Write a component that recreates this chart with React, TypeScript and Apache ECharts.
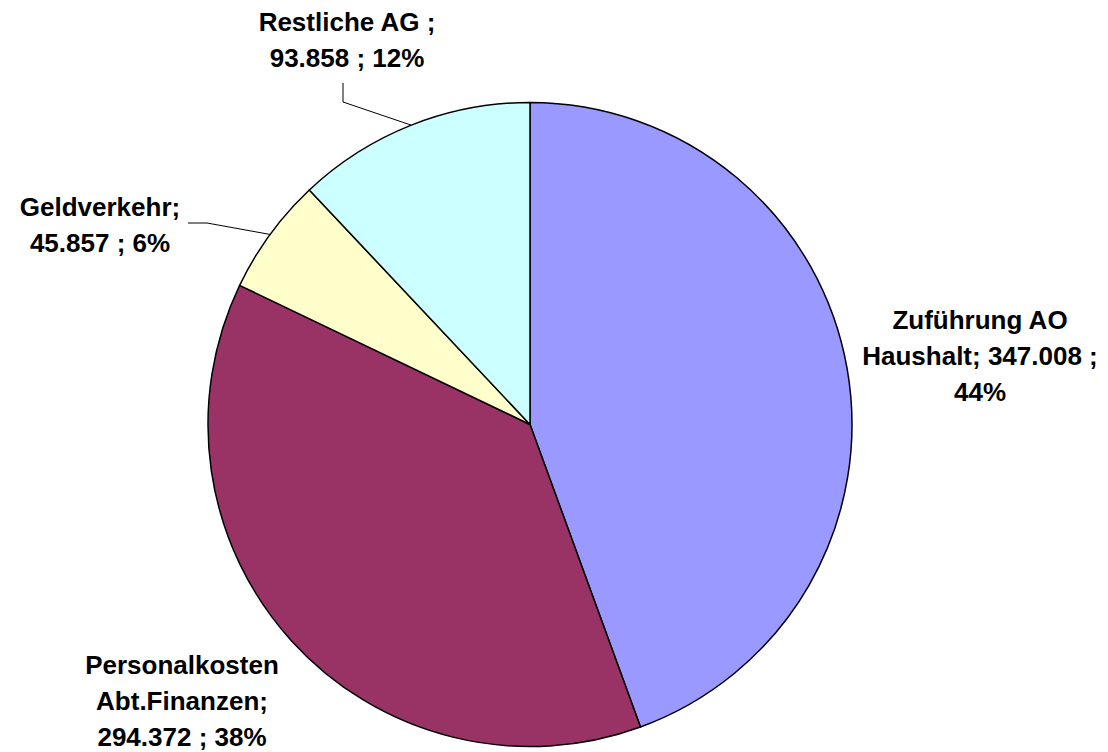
import React, { useEffect, useRef } from "react";
import * as echarts from "echarts";

// ---- Data ----
const categories = [
  "Zuführung AO Haushalt",
  "Personalkosten Abt.Finanzen",
  "Geldverkehr",
  "Restliche AG ",
];
const values = [347008, 294372, 45857, 93858];
const colors = ["#9999FF", "#993366", "#FFFFCC", "#CCFFFF"];

// where each label wraps (line texts built from name / value / percent)
function labelText(i: number, name: string, v: string, p: string): string {
  switch (i) {
    case 0:
      return "Zuführung AO\nHaushalt; " + v + " ;\n" + p;
    case 1:
      return "Personalkosten\nAbt.Finanzen;\n" + v + " ; " + p;
    default:
      return name + ";\n" + v + " ; " + p;
  }
}

// ---- Layout (label centres, leader line knee/end) ----
const labelPos: [number, number][] = [
  [980, 356],
  [182, 701],
  [100, 225],
  [347, 40],
];
const leader: ([number, number][] | null)[] = [
  null,
  null,
  [
    [207, 223],
    [188, 223],
  ],
  [
    [343, 102],
    [343, 83],
  ],
];

function fmtDE(n: number): string {
  const s = Math.round(n).toString();
  return s.replace(/\B(?=(\d{3})+(?!\d))/g, ".");
}

export default function App() {
  const ref = useRef<HTMLDivElement>(null);
  useEffect(() => {
    if (!ref.current) return;
    const chart = echarts.init(ref.current, null, { renderer: "svg" });
    const data = categories.map((name, i) => ({
      name,
      value: values[i],
      itemStyle: { color: colors[i] },
      labelLine: { show: leader[i] != null },
    }));
    chart.setOption({
      animation: false,
      backgroundColor: "#ffffff",
      series: [
        {
          type: "pie",
          center: [530, 424.5],
          radius: [0, 322],
          startAngle: 90,
          clockwise: true,
          data,
          itemStyle: { borderColor: "#000000", borderWidth: 1.5 },
          emphasis: { disabled: true },
          label: {
            show: true,
            position: "outside",
            color: "#000000",
            fontFamily: "'Liberation Sans', Arial, sans-serif",
            fontWeight: "bold",
            fontSize: 26,
            lineHeight: 36,
            align: "center",
            overflow: "none",
            formatter: (p: any) =>
              labelText(
                p.dataIndex,
                p.name,
                fmtDE(p.value),
                Math.round(p.percent) + "%"
              ),
          },
          labelLine: {
            show: true,
            length: 20,
            length2: 20,
            lineStyle: { color: "#000000", width: 1 },
          },
          labelLayout: (params: any) => {
            const i = params.dataIndex;
            const pos = labelPos[i];
            const out: any = {
              x: pos[0],
              y: pos[1],
              align: "center",
              verticalAlign: "middle",
              width: 400,
            };
            const l = leader[i];
            if (l && params.labelLinePoints) {
              const start = params.labelLinePoints[0];
              out.labelLinePoints = [start, l[0], l[1]];
            }
            return out;
          },
        },
      ],
    });
    return () => chart.dispose();
  }, []);
  return (
    <div
      ref={ref}
      style={{
        position: "absolute",
        left: 0,
        top: 0,
        width: 1108,
        height: 752,
        background: "#ffffff",
      }}
    />
  );
}
